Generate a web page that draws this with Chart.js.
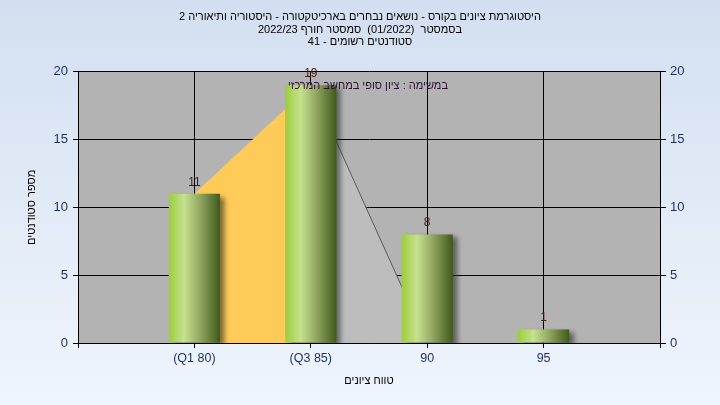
<!DOCTYPE html>
<html>
<head>
<meta charset="utf-8">
<script src="https://cdn.jsdelivr.net/npm/chart.js@4/dist/chart.umd.min.js"></script>
<style>
html,body{margin:0;padding:0;background:#fff;}
canvas{display:block;}
</style>
</head>
<body>
<canvas id="c" width="720" height="405"></canvas>
<script>
// ---- data ----
const titleLines = [
  'היסטוגרמת ציונים בקורס - נושאים נבחרים בארכיטקטורה - היסטוריה ותיאוריה 2',
  'בסמסטר  (01/2022)  סמסטר חורף 2022/23',
  'סטודנטים רשומים - 41'
];
const annotationText = 'במשימה : ציון סופי במחשב המרכזי';
const xAxisTitle = 'טווח ציונים';
const yAxisTitle = 'מספר סטודנטים';
const categories = ['', '(Q1 80)', '(Q3 85)', '90', '95', ''];
const studentCounts = [null, 11, 19, 8, 1, null];
const interquartileArea = [null, 11, 19, null, null, null];
const upperArea = [null, null, 19, 0, null, null];
const yMin = 0, yMax = 20, yStep = 5;

// ---- style ----
const FONT = "'Liberation Sans', Arial, sans-serif";
const TICK_COLOR = '#1c2f5e';
const BAR_FRACTION = 0.44;

const bgPlugin = {
  id: 'bg',
  beforeDraw(chart) {
    const {ctx, width, height, chartArea: a} = chart;
    ctx.save();
    const g = ctx.createLinearGradient(0, 0, 0, height);
    g.addColorStop(0, '#d3dff0');
    g.addColorStop(1, '#eff5fd');
    ctx.fillStyle = g;
    ctx.fillRect(0, 0, width, height);
    ctx.fillStyle = '#b3b3b3';
    ctx.fillRect(a.left, a.top, a.right - a.left, a.bottom - a.top);
    ctx.restore();
  }
};

const shadowPlugin = {
  id: 'barShadow',
  beforeDatasetDraw(chart, args) {
    if (chart.data.datasets[args.index].type !== 'bar') return;
    const ctx = chart.ctx;
    ctx.save();
    ctx.shadowColor = 'rgba(40,40,40,0.6)';
    ctx.shadowOffsetX = 5;
    ctx.shadowOffsetY = 3;
    ctx.shadowBlur = 5;
  },
  afterDatasetDraw(chart, args) {
    if (chart.data.datasets[args.index].type !== 'bar') return;
    chart.ctx.restore();
  }
};

const labelPlugin = {
  id: 'labels',
  afterDatasetsDraw(chart) {
    const ctx = chart.ctx;
    chart.data.datasets.forEach((ds, di) => {
      if (ds.type !== 'bar') return;
      const meta = chart.getDatasetMeta(di);
      meta.data.forEach((el, i) => {
        const v = ds.data[i];
        if (v === null || v === undefined) return;
        ctx.save();
        ctx.font = '12px ' + FONT;
        ctx.fillStyle = '#4a1616';
        ctx.textAlign = 'center';
        ctx.textBaseline = 'alphabetic';
        ctx.fillText(String(v), el.x, el.y - 8);
        ctx.restore();
      });
    });
    const a = chart.chartArea;
    ctx.save();
    ctx.font = '11px ' + FONT;
    ctx.fillStyle = '#2a1030';
    ctx.textAlign = 'center';
    ctx.textBaseline = 'middle';
    ctx.fillText(annotationText, (a.left + a.right) / 2 - 1, a.top + 14);
    ctx.restore();
  }
};

function barGradient(context) {
  const chart = context.chart;
  const xs = chart.scales && chart.scales.x;
  if (!xs || !chart.chartArea || context.dataIndex === undefined) return '#8cb040';
  const cx = xs.getPixelForValue(context.dataIndex);
  const w = (xs.getPixelForValue(1) - xs.getPixelForValue(0)) * BAR_FRACTION;
  const g = chart.ctx.createLinearGradient(cx - w / 2, 0, cx + w / 2, 0);
  g.addColorStop(0, '#9ccd3c');
  g.addColorStop(0.3, '#c6e18e');
  g.addColorStop(0.6, '#93a862');
  g.addColorStop(1, '#3f5a1a');
  return g;
}

new Chart(document.getElementById('c'), {
  data: {
    labels: categories,
    datasets: [
      {
        type: 'bar',
        data: studentCounts,
        backgroundColor: barGradient,
        borderWidth: 0,
        categoryPercentage: 1,
        barPercentage: BAR_FRACTION,
        order: 0
      },
      {
        type: 'line',
        data: interquartileArea,
        fill: 'origin',
        backgroundColor: '#ffcb58',
        borderWidth: 0,
        borderColor: 'rgba(0,0,0,0)',
        pointRadius: 0,
        tension: 0,
        order: 2
      },
      {
        type: 'line',
        data: upperArea,
        fill: 'origin',
        backgroundColor: '#bdbdbd',
        borderWidth: 1,
        borderColor: '#5a5a5a',
        pointRadius: 0,
        tension: 0,
        order: 1
      }
    ]
  },
  options: {
    responsive: false,
    animation: false,
    devicePixelRatio: 1,
    layout: {padding: {left: 0, right: 0, top: 0, bottom: 0}},
    plugins: {
      legend: {display: false},
      tooltip: {enabled: false},
      title: {
        display: true,
        text: titleLines,
        color: '#000',
        font: {family: FONT, size: 11, weight: 'normal', lineHeight: 1.14},
        padding: {top: 11, bottom: 23}
      }
    },
    scales: {
      x: {
        type: 'category',
        offset: false,
        grid: {offset: false, color: '#000', lineWidth: 1, tickLength: 5, drawTicks: true},
        border: {color: '#000'},
        ticks: {color: TICK_COLOR, font: {family: FONT, size: 12.5}, padding: 3, autoSkip: false, maxRotation: 0},
        title: {display: true, text: xAxisTitle, color: '#000', font: {family: FONT, size: 11}, padding: {top: 0, bottom: 17}},
        afterFit(s) { s.height = 62; }
      },
      y: {
        position: 'left',
        min: yMin, max: yMax,
        grid: {color: '#000', lineWidth: 1, tickLength: 5},
        border: {color: '#000'},
        ticks: {stepSize: yStep, color: TICK_COLOR, font: {family: FONT, size: 13}, padding: 5},
        title: {display: true, text: yAxisTitle, color: '#000', font: {family: FONT, size: 11}, padding: {top: 25, bottom: 0}},
        afterFit(s) { s.width = 78; }
      },
      y2: {
        position: 'right',
        min: yMin, max: yMax,
        grid: {drawOnChartArea: false, color: '#000', lineWidth: 1, tickLength: 6},
        border: {color: '#000'},
        ticks: {stepSize: yStep, color: TICK_COLOR, font: {family: FONT, size: 13}, padding: 4},
        afterFit(s) { s.width = 60; }
      }
    }
  },
  plugins: [bgPlugin, shadowPlugin, labelPlugin]
});
</script>
</body>
</html>
